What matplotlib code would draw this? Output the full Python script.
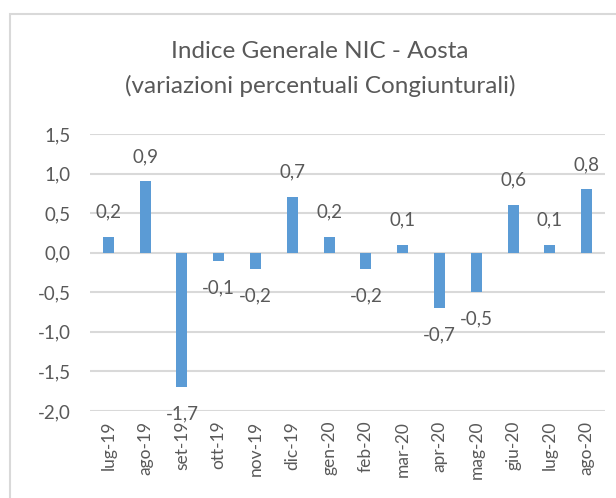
import matplotlib
matplotlib.use("Agg")
import matplotlib.pyplot as plt
from matplotlib.patches import Rectangle

categories = ["lug-19", "ago-19", "set-19", "ott-19", "nov-19", "dic-19", "gen-20",
              "feb-20", "mar-20", "apr-20", "mag-20", "giu-20", "lug-20", "ago-20"]
values = [0.2, 0.9, -1.7, -0.1, -0.2, 0.7, 0.2, -0.2, 0.1, -0.7, -0.5, 0.6, 0.1, 0.8]
yticks = [-2.0, -1.5, -1.0, -0.5, 0.0, 0.5, 1.0, 1.5]

plt.rcParams['font.family'] = ['Lato', 'DejaVu Sans']
txt = '#595959'

fig = plt.figure(figsize=(6.16, 4.98), dpi=100)
fig.patches.append(Rectangle((10/616, -0.1), 1.2, 1 - 14/498 + 0.1, transform=fig.transFigure,
                             fill=False, edgecolor='#D9D9D9', linewidth=1.5))
ax = fig.add_axes([90/616, 1 - 411/498, (605 - 90)/616, (411 - 134)/498])
x = list(range(len(categories)))
ax.bar(x, values, width=0.3, color='#5B9BD5', zorder=3)
ax.set_xlim(-0.5, len(categories) - 0.5)
ax.set_ylim(-2.0, 1.5)
ax.set_yticks(yticks)
ax.set_yticklabels([f"{v:.1f}".replace('.', ',') for v in yticks], fontsize=13.5, color=txt)
ax.set_xticks(x)
ax.set_xticklabels(categories, rotation=90, fontsize=12.5, color=txt)
ax.tick_params(axis='both', length=0)
ax.tick_params(axis='x', pad=7)
ax.tick_params(axis='y', pad=14)
ax.grid(axis='y', color='#D9D9D9', linewidth=1.5, zorder=0)
for s in ax.spines.values():
    s.set_visible(False)

for xi, v in zip(x, values):
    lbl = f"{v:.1f}".replace('.', ',')
    off = 25 if v >= 0 else -27
    ax.annotate(lbl, (xi, v), xytext=(0, off), textcoords='offset pixels',
                ha='center', va='center', fontsize=13.5, color=txt)

fig.text(320/616, 1 - 52/498, "Indice Generale NIC - Aosta", ha='center', va='center',
         fontsize=17.5, color=txt)
fig.text(320/616, 1 - 86/498, "(variazioni percentuali Congiunturali)", ha='center', va='center',
         fontsize=17.5, color=txt)

fig.savefig("out.png", dpi=100)
